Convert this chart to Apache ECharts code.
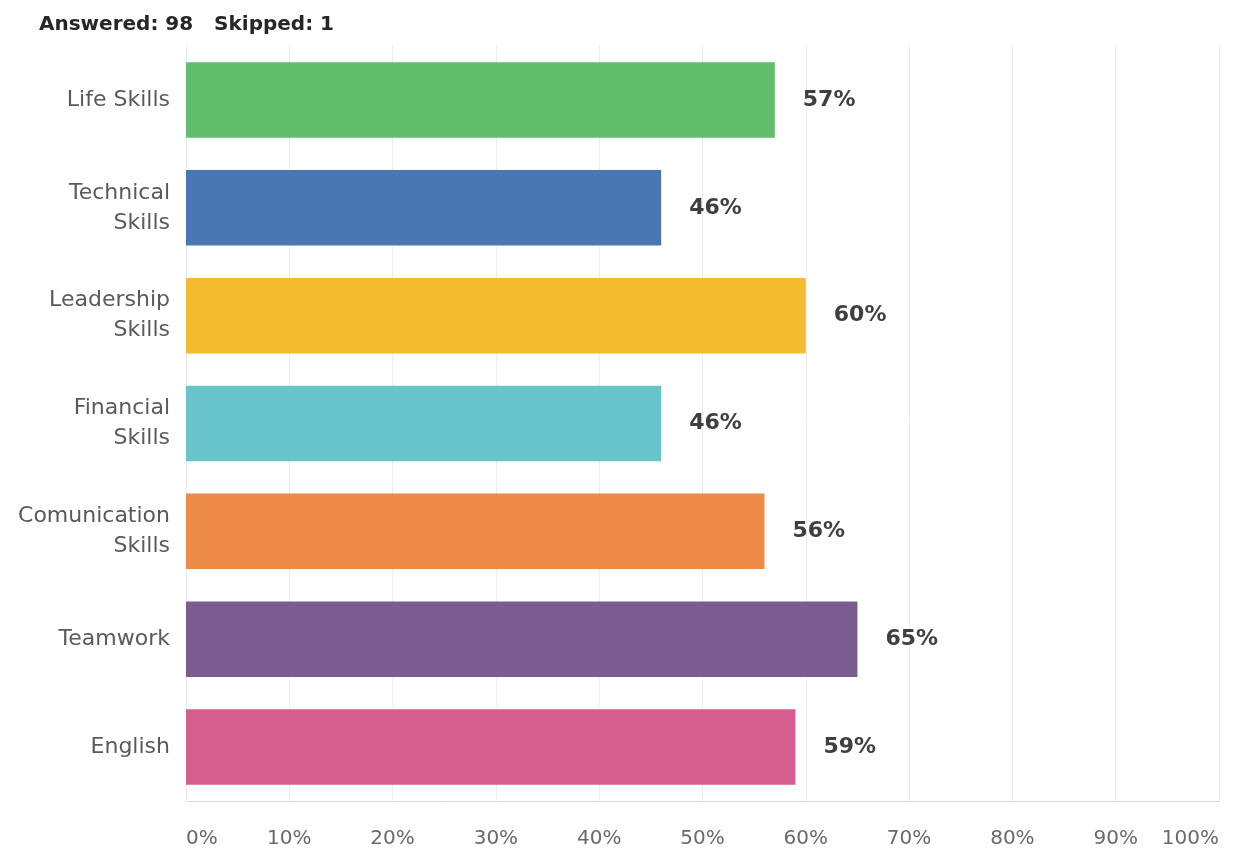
<!DOCTYPE html>
<html>
<head>
<meta charset="utf-8">
<script src="https://cdn.jsdelivr.net/npm/echarts@6/dist/echarts.min.js"></script>
<style>
	html, body { margin: 0; padding: 0; background: #fff; }
	#chart { width: 1239px; height: 857px; }
</style>
</head>
<body>
<div id="chart"></div>
<script>
	// survey answers
	const categories = ['Life Skills', 'Technical\nSkills', 'Leadership\nSkills', 'Financial\nSkills', 'Comunication\nSkills', 'Teamwork', 'English'];
	const percents = [57, 46, 60, 46, 56, 65, 59];
	const barColors = ['#62BD6C', '#4A77B4', '#F3BC2F', '#67C6CC', '#EE8A48', '#7B5C90', '#D65E8E'];
	const xTicks = [0, 10, 20, 30, 40, 50, 60, 70, 80, 90, 100];

	let myChart = echarts.init(document.getElementById('chart'));
	let option = {
		backgroundColor: '#fff',
		title: {
			text: 'Answered: 98   Skipped: 1',
			left: 34,
			top: 10,
			textStyle: {
				color: '#262626',
				fontSize: 20,
				fontWeight: 'bold',
				fontFamily: 'DejaVu Sans'
			}
		},
		grid: {
			left: 186,
			right: 20,
			top: 46,
			bottom: 56,
			containLabel: false
		},
		xAxis: {
			type: 'value',
			min: 0,
			max: 100,
			interval: 10,
			axisLine: { show: true, lineStyle: { color: '#d9d9d9' } },
			axisTick: { show: false },
			splitLine: { show: true, lineStyle: { color: '#eeeeee' } },
			axisLabel: {
				color: '#6a6a6a',
				fontSize: 20,
				fontFamily: 'DejaVu Sans',
				margin: 28,
				alignMinLabel: 'left',
				alignMaxLabel: 'right',
				formatter: (v) => xTicks.includes(v) ? v + '%' : ''
			}
		},
		yAxis: {
			type: 'category',
			inverse: true,
			data: categories,
			axisLine: { show: true, lineStyle: { color: '#eeeeee' } },
			axisTick: { show: false },
			axisLabel: {
				color: '#5a5a5a',
				fontSize: 22,
				fontFamily: 'DejaVu Sans',
				lineHeight: 30,
				margin: 16,
				align: 'right'
			}
		},
		series: [{
			type: 'bar',
			barWidth: '70%',
			data: percents.map((v, i) => ({ value: v, itemStyle: { color: barColors[i] } })),
			label: {
				show: true,
				position: 'right',
				distance: 28,
				formatter: '{c}%',
				color: '#3f3f3f',
				fontSize: 22,
				fontWeight: 'bold',
				fontFamily: 'DejaVu Sans'
			}
		}]
	};
	myChart.setOption(option);
</script>
</body>
</html>
